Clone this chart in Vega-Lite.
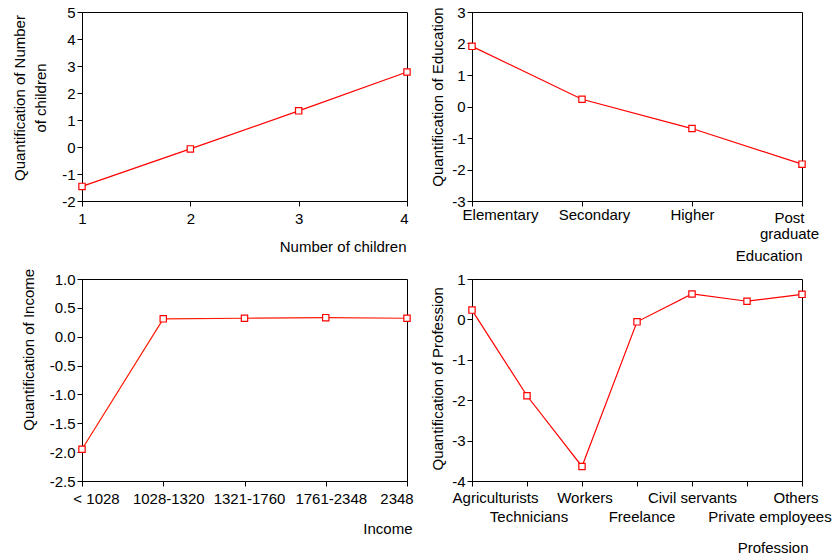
{
  "$schema": "https://vega.github.io/schema/vega-lite/v6.json",
  "background": "white",
  "padding": {"left": 11, "top": 4, "right": 5, "bottom": 5},
  "columns": 2,
  "align": "each",
  "bounds": "flush",
  "spacing": {"row": 78, "column": 65},
  "datasets": {
    "children": [
      {"n": 1, "q": -1.46},
      {"n": 2, "q": -0.07},
      {"n": 3, "q": 1.34},
      {"n": 4, "q": 2.78}
    ],
    "education": [
      {"c": "Elementary", "q": 1.91},
      {"c": "Secondary", "q": 0.23},
      {"c": "Higher", "q": -0.70},
      {"c": "Post graduate", "q": -1.83}
    ],
    "income": [
      {"c": "< 1028", "q": -1.95},
      {"c": "1028-1320", "q": 0.31},
      {"c": "1321-1760", "q": 0.32},
      {"c": "1761-2348", "q": 0.33},
      {"c": "2348", "q": 0.32}
    ],
    "profession": [
      {"c": "Agriculturists", "q": 0.23},
      {"c": "Technicians", "q": -1.89},
      {"c": "Workers", "q": -3.64},
      {"c": "Freelance", "q": -0.06},
      {"c": "Civil servants", "q": 0.63},
      {"c": "Private employees", "q": 0.45},
      {"c": "Others", "q": 0.62}
    ]
  },
  "concat": [
    {
      "width": 325,
      "height": 189,
      "data": {"name": "children"},
      "encoding": {
        "x": {
          "field": "n", "type": "quantitative",
          "scale": {"domain": [1, 4], "nice": false, "zero": false},
          "axis": {
            "values": [1, 2, 3, 4], "format": "d", "labelAngle": 0, "labelFlush": false, "labelPadding": 5,
            "labelOffset": {"condition": {"test": "datum.value === 4", "value": -3}, "value": 0},
            "title": "Number of children", "titleX": 324, "titleY": 38.5, "titleAlign": "right", "titleBaseline": "top"
          }
        },
        "y": {
          "field": "q", "type": "quantitative",
          "scale": {"domain": [-2, 5], "nice": false, "zero": false},
          "axis": {
            "values": [-2, -1, 0, 1, 2, 3, 4, 5], "format": "d",
            "labelExpr": "replace(datum.label, '\u2212', '-')",
            "title": ["Quantification of Number", "of children"],
            "titleX": -58, "titleY": 85.5, "titleAngle": 270, "titleAlign": "center", "titleBaseline": "alphabetic", "titleLineHeight": 21.7
          }
        }
      },
      "layer": [
        {"mark": {"type": "line", "color": "#ff0000", "strokeWidth": 1.2}},
        {"mark": {"type": "point", "shape": "square", "size": 40, "filled": true, "fill": "white", "stroke": "#ff0000", "strokeWidth": 1.2, "opacity": 1}}
      ]
    },
    {
      "width": 330,
      "height": 189,
      "data": {"name": "education"},
      "encoding": {
        "x": {
          "field": "c", "type": "nominal", "sort": null,
          "scale": {"padding": 0},
          "axis": {
            "labelAngle": 0, "labelLineHeight": 16,
            "labelPadding": {"condition": {"test": "datum.value === 'Post graduate'", "value": 4}, "value": 1},
            "labelExpr": "datum.value === 'Post graduate' ? ['Post', 'graduate'] : datum.label",
            "labelOffset": {"condition": [
              {"test": "datum.value === 'Elementary'", "value": 28},
              {"test": "datum.value === 'Secondary'", "value": 12},
              {"test": "datum.value === 'Post graduate'", "value": -13}
            ], "value": 0},
            "title": "Education", "titleX": 330, "titleY": 47.5, "titleAlign": "right", "titleBaseline": "top"
          }
        },
        "y": {
          "field": "q", "type": "quantitative",
          "scale": {"domain": [-3, 3], "nice": false, "zero": false},
          "axis": {
            "values": [-3, -2, -1, 0, 1, 2, 3], "format": "d",
            "labelExpr": "replace(datum.label, '\u2212', '-')",
            "title": "Quantification of Education",
            "titleX": -30, "titleY": 84.5, "titleAngle": 270, "titleAlign": "center", "titleBaseline": "alphabetic"
          }
        }
      },
      "layer": [
        {"mark": {"type": "line", "color": "#ff0000", "strokeWidth": 1.2}},
        {"mark": {"type": "point", "shape": "square", "size": 40, "filled": true, "fill": "white", "stroke": "#ff0000", "strokeWidth": 1.2, "opacity": 1}}
      ]
    },
    {
      "width": 325,
      "height": 202,
      "data": {"name": "income"},
      "encoding": {
        "x": {
          "field": "c", "type": "nominal", "sort": null,
          "scale": {"padding": 0},
          "axis": {
            "labelAngle": 0, "labelPadding": 5,
            "labelOffset": {"condition": [
              {"test": "datum.value === '< 1028'", "value": 14},
              {"test": "datum.value === '1028-1320'", "value": 5},
              {"test": "datum.value === '1321-1760'", "value": 4.5},
              {"test": "datum.value === '1761-2348'", "value": 5},
              {"test": "datum.value === '2348'", "value": -10.5}
            ], "value": 0},
            "title": "Income", "titleX": 330, "titleY": 40.5, "titleAlign": "right", "titleBaseline": "top"
          }
        },
        "y": {
          "field": "q", "type": "quantitative",
          "scale": {"domain": [-2.5, 1], "nice": false, "zero": false},
          "axis": {
            "values": [-2.5, -2, -1.5, -1, -0.5, 0, 0.5, 1], "format": ".1f",
            "labelExpr": "replace(datum.label, '\u2212', '-')",
            "title": "Quantification of Income",
            "titleX": -49, "titleY": 70.3, "titleAngle": 270, "titleAlign": "center", "titleBaseline": "alphabetic"
          }
        }
      },
      "layer": [
        {"mark": {"type": "line", "color": "#ff1a00", "strokeWidth": 1.2}},
        {"mark": {"type": "point", "shape": "square", "size": 40, "filled": true, "fill": "white", "stroke": "#ff0000", "strokeWidth": 1.2, "opacity": 1}}
      ]
    },
    {
      "width": 330,
      "height": 202,
      "data": {"name": "profession"},
      "encoding": {
        "x": {
          "field": "c", "type": "nominal", "sort": null,
          "scale": {"padding": 0},
          "axis": {
            "labelAngle": 0, "labelPadding": 4, "labelLineHeight": 19,
            "labelExpr": "indexof(['Technicians', 'Freelance', 'Private employees'], datum.value) >= 0 ? ['', datum.label] : datum.label",
            "labelOffset": {"condition": [
              {"test": "datum.value === 'Agriculturists'", "value": 23},
              {"test": "datum.value === 'Technicians'", "value": 1.5},
              {"test": "datum.value === 'Workers'", "value": 2.5},
              {"test": "datum.value === 'Freelance'", "value": 4.5},
              {"test": "datum.value === 'Private employees'", "value": 22.5},
              {"test": "datum.value === 'Others'", "value": -6.5}
            ], "value": 0},
            "title": "Profession", "titleX": 336, "titleY": 59, "titleAlign": "right", "titleBaseline": "top"
          }
        },
        "y": {
          "field": "q", "type": "quantitative",
          "scale": {"domain": [-4, 1], "nice": false, "zero": false},
          "axis": {
            "values": [-4, -3, -2, -1, 0, 1], "format": "d",
            "labelExpr": "replace(datum.label, '\u2212', '-')",
            "title": "Quantification of Profession",
            "titleX": -30, "titleY": 99.3, "titleAngle": 270, "titleAlign": "center", "titleBaseline": "alphabetic"
          }
        }
      },
      "layer": [
        {"mark": {"type": "line", "color": "#ff0000", "strokeWidth": 1.2}},
        {"mark": {"type": "point", "shape": "square", "size": 40, "filled": true, "fill": "white", "stroke": "#ff0000", "strokeWidth": 1.2, "opacity": 1}}
      ]
    }
  ],
  "config": {
    "view": {"stroke": "black", "strokeWidth": 1},
    "axis": {
      "labelFont": "Liberation Sans", "labelFontSize": 15, "labelColor": "black",
      "titleFont": "Liberation Sans", "titleFontSize": 15, "titleFontWeight": "normal", "titleColor": "black",
      "domainColor": "black", "domainWidth": 1, "tickColor": "black", "tickSize": 5, "tickWidth": 1,
      "grid": false, "labelPadding": 2
    }
  }
}
